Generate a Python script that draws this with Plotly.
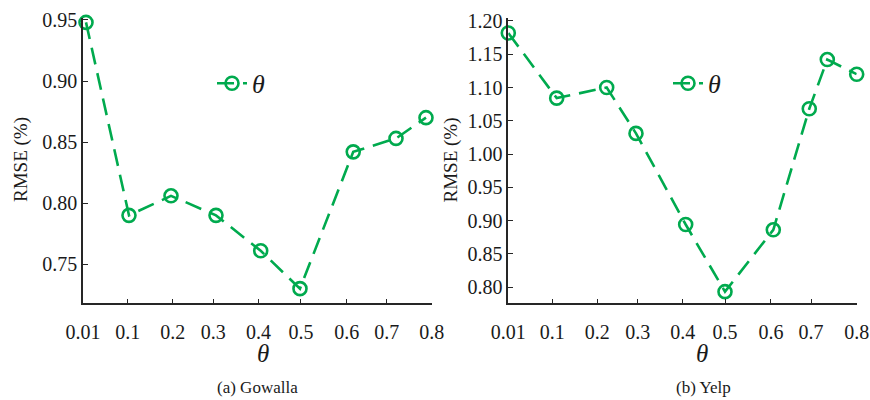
import plotly.graph_objects as go

# Parameter sensitivity of RMSE to theta on two datasets
theta_labels = ["0.01", "0.1", "0.2", "0.3", "0.4", "0.5", "0.6", "0.7", "0.8"]

# Gowalla: tick positions along the (non-uniform) theta axis and measured points
gowalla_tick_pos = [0.0, 1.026, 2.058, 2.989, 4.026, 5.001, 6.050, 6.968, 8.0]
gowalla_x = [0.069, 1.055, 2.019, 3.051, 4.077, 4.978, 6.2, 7.181, 7.869]
gowalla_rmse = [0.948, 0.790, 0.806, 0.790, 0.761, 0.730, 0.842, 0.853, 0.870]
gowalla_yticks = [0.75, 0.80, 0.85, 0.90, 0.95]

# Yelp
yelp_tick_pos = [0.0, 1.010, 2.044, 2.971, 4.005, 4.976, 6.032, 6.951, 8.0]
yelp_x = [0.0, 1.111, 2.259, 2.932, 4.073, 4.976, 6.085, 6.911, 7.325, 8.0]
yelp_rmse = [1.182, 1.084, 1.100, 1.031, 0.894, 0.793, 0.886, 1.068, 1.142, 1.120]
yelp_yticks = [0.80, 0.85, 0.90, 0.95, 1.00, 1.05, 1.10, 1.15, 1.20]

GREEN = "#00AA4E"
AXIS = "#262626"
TEXT = "#1a1a1a"
SERIF = "Times New Roman"
W, H = 870, 400


def px_x(p):
    return p / W


def px_y(p):
    return 1 - p / H


line_style = dict(color=GREEN, width=2.6, dash="17px,9px")
marker_style = dict(symbol="circle-open", size=13, color=GREEN, line=dict(width=2.6, color=GREEN))

fig = go.Figure()
fig.add_trace(go.Scatter(
    x=gowalla_x, y=gowalla_rmse, mode="lines+markers", name="<i>θ</i>",
    line=line_style, marker=marker_style, cliponaxis=False,
    xaxis="x", yaxis="y", legend="legend",
))
fig.add_trace(go.Scatter(
    x=yelp_x, y=yelp_rmse, mode="lines+markers", name="<i>θ</i>",
    line=line_style, marker=marker_style, cliponaxis=False,
    xaxis="x2", yaxis="y2", legend="legend2",
))

common_x = dict(
    automargin=False,
    showgrid=False, zeroline=False, showline=True, linecolor=AXIS, linewidth=1.6,
    ticks="inside", ticklen=5, tickwidth=1.3, tickcolor=AXIS,
    tickfont=dict(family=SERIF, size=20, color=TEXT), ticklabelstandoff=10,
)
common_y = dict(
    automargin=False,
    showgrid=False, zeroline=False, showline=True, linecolor=AXIS, linewidth=1.6,
    ticks="inside", ticklen=5, tickwidth=1.3, tickcolor=AXIS,
    tickfont=dict(family=SERIF, size=20, color=TEXT), tickformat=".2f",
)

y_dom = [px_y(303.3), px_y(18)]

fig.update_layout(
    width=W, height=H,
    margin=dict(l=0, r=0, t=0, b=0, pad=0),
    font=dict(family=SERIF, size=18, color=TEXT),
    paper_bgcolor="white", plot_bgcolor="white",
    showlegend=True,
    xaxis=dict(domain=[px_x(83), px_x(431.7)], range=[0, 8],
               tickvals=gowalla_tick_pos, ticktext=theta_labels, anchor="y", **common_x),
    yaxis=dict(domain=y_dom, range=[0.718, 0.9516], tickvals=gowalla_yticks,
               anchor="x", **common_y),
    xaxis2=dict(domain=[px_x(508.3), px_x(856.7)], range=[0, 8],
                tickvals=yelp_tick_pos, ticktext=theta_labels, anchor="y2", **common_x),
    yaxis2=dict(domain=y_dom, range=[0.7755, 1.2045], tickvals=yelp_yticks,
                anchor="x2", **common_y),
    legend=dict(x=px_x(212), y=px_y(83.3), xanchor="left", yanchor="middle",
                bgcolor="rgba(0,0,0,0)", font=dict(family=SERIF, size=26, color=TEXT)),
    legend2=dict(x=px_x(668), y=px_y(83.3), xanchor="left", yanchor="middle",
                 bgcolor="rgba(0,0,0,0)", font=dict(family=SERIF, size=26, color=TEXT)),
)

annotations = [
    dict(text="<i>θ</i>", x=px_x(263), y=px_y(353), size=25),
    dict(text="<i>θ</i>", x=px_x(702), y=px_y(353), size=25),
    dict(text="(a) Gowalla", x=px_x(257), y=px_y(387), size=17),
    dict(text="(b) Yelp", x=px_x(703), y=px_y(387), size=17),
]
for a in annotations:
    fig.add_annotation(text=a["text"], x=a["x"], y=a["y"], xref="paper", yref="paper",
                       xanchor="center", yanchor="middle", showarrow=False,
                       font=dict(family=SERIF, size=a["size"], color=TEXT))

for xc in (21, 450.5):
    fig.add_annotation(text="RMSE (%)", x=px_x(xc), y=px_y(160), xref="paper", yref="paper",
                       xanchor="center", yanchor="middle", showarrow=False, textangle=-90,
                       font=dict(family=SERIF, size=19, color=TEXT))

fig.write_html("out.html")
